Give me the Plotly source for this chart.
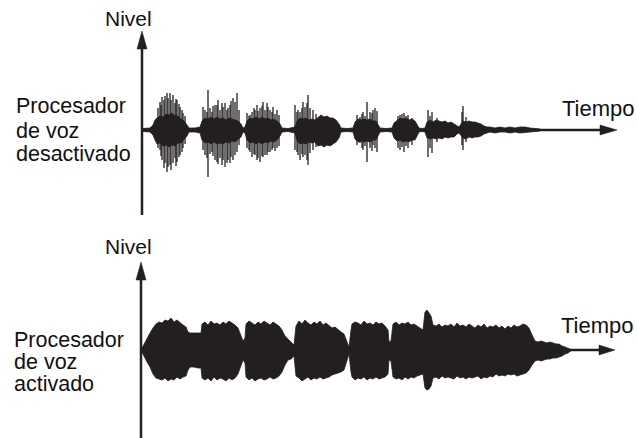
import plotly.graph_objects as go

# 波形数据（单位：像素级的时间 / 幅度，从参考图读取）
# 上图：处理器关闭 —— 主体包络
top_t = [143, 150, 153, 155, 157, 160, 163, 166, 169, 172, 175, 178, 181, 184, 187, 189,
         195, 200, 202, 205, 208, 211, 214, 217, 220, 223, 226, 229, 232, 235, 238, 241, 243,
         245, 247, 250, 253, 256, 259, 262, 265, 268, 271, 274, 277, 280, 282,
         288, 295, 297, 300, 303, 306, 309, 312, 315, 318, 321, 324, 327, 330, 333, 336, 339, 341,
         347, 353, 355, 358, 361, 364, 367, 370, 373, 376, 378, 380,
         386, 392, 394, 397, 400, 403, 406, 409, 412, 415, 417, 419,
         422, 425, 427, 430, 433, 436, 439, 442, 445, 448, 451, 454, 457, 459,
         461, 463, 466, 469, 472, 475, 478, 481, 484, 487, 490, 495, 500, 505, 510, 515, 520, 525, 530, 535, 540]
top_hi = [1.5, 2, 5, 10, 12, 14, 13, 16, 15, 17, 14, 14, 11, 9, 5, 2,
          2, 3, 9, 12, 11, 13, 11, 13, 11, 12, 10, 12, 11, 10, 9, 6, 2,
          3, 9, 12, 11, 13, 11, 13, 11, 12, 10, 11, 9, 6, 2,
          1.5, 3, 9, 12, 11, 12, 10, 11, 10, 13, 15, 13, 14, 12, 12, 10, 6, 2,
          1.5, 2, 8, 11, 10, 11, 10, 11, 9, 9, 5, 2,
          1.5, 2, 7, 10, 12, 11, 12, 10, 11, 9, 5, 2,
          1.5, 2, 8, 10, 8, 10, 9, 8, 9, 7, 8, 6, 4, 3,
          6, 9, 8, 9, 8, 8, 7, 6, 4, 3, 3, 2, 3, 2, 3, 2, 3, 3, 2, 1.5, 1]
top_lo = [-1.5, -2, -5, -10, -14, -13, -16, -15, -17, -15, -16, -13, -13, -10, -6, -2,
          -2, -3, -10, -13, -12, -14, -12, -14, -13, -14, -12, -13, -11, -12, -10, -7, -2,
          -3, -10, -13, -12, -14, -12, -14, -12, -13, -11, -12, -10, -6, -2,
          -1.5, -3, -11, -14, -13, -14, -12, -13, -12, -16, -15, -17, -15, -16, -14, -12, -8, -2,
          -1.5, -2, -9, -12, -11, -12, -11, -12, -10, -10, -6, -2,
          -1.5, -2, -8, -11, -10, -12, -11, -12, -10, -10, -6, -2,
          -1.5, -2, -8, -9, -8, -9, -8, -9, -7, -8, -7, -7, -4, -3,
          -6, -8, -9, -7, -8, -7, -7, -6, -4, -3, -2, -3, -2, -2, -3, -2, -3, -3, -2, -1.5, -1]

# 上图：尖峰
spk_t = [158, 160, 161, 162, 164, 165, 167, 168, 170, 171, 173, 175, 176, 177, 179, 180, 182, 183, 185,
         203, 205, 207, 208, 210, 212, 213, 215, 217, 218, 220, 222, 223, 225, 227, 228, 230, 231, 233, 235, 237, 239,
         247, 249, 250, 252, 254, 255, 257, 258, 260, 262, 263, 265, 267, 268, 270, 272, 273, 275, 277, 279,
         295, 297, 298, 300, 302, 303, 305, 307, 308, 310, 313, 316,
         357, 360, 362, 363, 365, 367, 370, 372, 373, 375, 377,
         398, 400, 402, 404, 406, 408, 412,
         428, 430, 432, 437,
         462, 463, 466]
spk_hi = [22, 28, 25, 33, 30, 34, 37, 32, 37, 30, 35, 27, 31, 30, 26, 23, 20, 17, 14,
          23, 20, 18, 40, 22, 18, 24, 25, 25, 30, 20, 27, 23, 27, 20, 22, 25, 29, 32, 28, 37, 20,
          17, 14, 15, 18, 22, 20, 25, 19, 22, 24, 28, 20, 27, 23, 20, 18, 23, 16, 20, 15,
          25, 18, 20, 18, 22, 28, 23, 27, 35, 22, 20, 16,
          15, 13, 16, 18, 14, 28, 18, 17, 20, 22, 19,
          14, 15, 16, 17, 14, 15, 12,
          20, 14, 18, 12,
          18, 24, 13]
spk_lo = [-18, -20, -26, -30, -38, -33, -42, -37, -35, -40, -33, -28, -36, -32, -27, -25, -22, -18, -14,
          -20, -25, -28, -47, -24, -22, -26, -30, -32, -34, -28, -35, -30, -37, -33, -30, -33, -27, -30, -25, -22, -15,
          -18, -20, -22, -27, -24, -25, -30, -28, -32, -26, -27, -25, -25, -22, -22, -20, -18, -21, -18, -16,
          -20, -22, -25, -30, -24, -27, -25, -30, -35, -23, -20, -17,
          -15, -13, -18, -20, -16, -32, -18, -21, -15, -18, -22,
          -18, -20, -17, -22, -16, -18, -15,
          -27, -18, -23, -12,
          -15, -20, -12]

# 下图：处理器开启 —— 包络
bot_t = [141, 144, 147, 150, 153, 156, 159, 162, 165, 168, 171, 174, 177, 180, 183, 186, 188,
         190, 194, 198, 201, 202, 205, 208, 211, 214, 217, 220, 223, 226, 229, 232, 235, 238, 241, 243, 245,
         246, 249, 252, 255, 258, 261, 264, 267, 270, 273, 276, 279, 282, 285, 288, 291, 294,
         296, 299, 302, 305, 308, 311, 314, 317, 320, 323, 326, 329, 332, 335, 338, 341, 344, 347, 349,
         351, 352, 355, 358, 361, 364, 367, 370, 373, 376, 379, 382, 385, 388, 389, 391,
         393, 396, 399, 402, 405, 408, 411, 414, 417, 420, 423, 425, 427, 429, 431,
         433, 436, 439, 442, 445, 448, 451, 454, 457, 460, 463, 466, 469, 472, 475, 478, 481, 484, 487, 490,
         493, 496, 499, 502, 505, 508, 511, 514, 517, 520, 523, 526, 529, 532, 535,
         538, 541, 544, 547, 550, 553, 556, 559, 562, 565, 568, 572]
bot_hi = [0, 6, 12, 17, 22, 26, 28, 27, 30, 29, 32, 28, 30, 27, 25, 23, 18,
          17, 17, 17, 17, 26, 28, 25, 29, 26, 27, 25, 28, 26, 29, 27, 25, 22, 14, 9, 12,
          26, 29, 27, 25, 28, 26, 29, 27, 25, 28, 26, 24, 20, 14, 11, 8, 5,
          24, 29, 26, 30, 27, 25, 28, 26, 29, 25, 27, 24, 22, 23, 20, 18, 16, 9, 3,
          20, 26, 28, 27, 25, 29, 26, 27, 25, 28, 26, 27, 24, 20, 8, 9,
          26, 28, 25, 27, 26, 28, 25, 26, 24, 22, 20, 38, 40, 37, 34,
          25, 24, 26, 23, 25, 24, 26, 23, 27, 24, 25, 23, 26, 24, 22, 25, 23, 26, 22, 24,
          23, 25, 22, 24, 21, 24, 22, 25, 23, 24, 26, 25, 22, 15, 9,
          8, 9, 8, 7, 8, 7, 6, 6, 4, 3, 2, 0]
bot_lo = [0, -6, -12, -17, -24, -28, -29, -30, -28, -31, -29, -30, -27, -29, -27, -26, -20,
          -17, -17, -18, -18, -28, -30, -28, -31, -27, -30, -28, -29, -31, -28, -30, -28, -24, -15, -10, -13,
          -27, -30, -28, -31, -29, -28, -30, -29, -27, -29, -28, -26, -22, -15, -10, -9, -6,
          -26, -28, -31, -29, -27, -30, -28, -29, -27, -29, -28, -27, -25, -24, -23, -22, -20, -10, -4,
          -22, -27, -30, -28, -29, -27, -30, -28, -29, -27, -29, -28, -27, -24, -10, -11,
          -27, -29, -28, -30, -27, -29, -27, -28, -26, -25, -24, -38, -40, -39, -36,
          -28, -27, -29, -26, -28, -27, -28, -29, -26, -28, -27, -29, -27, -28, -27, -26, -29, -27, -28, -26,
          -27, -24, -26, -25, -26, -24, -25, -24, -26, -25, -24, -23, -20, -15, -11,
          -10, -11, -10, -9, -9, -8, -8, -7, -6, -4, -3, 0]

W, H = 637, 438
INK = '#231f20'
FONT = 'Liberation Sans, Arial, sans-serif'


def px(x):  # 像素 -> paper 坐标
    return x / W


def py(y):
    return 1 - y / H


fig = go.Figure()

# 上图尖峰
sx, sy = [], []
for t, a, b in zip(spk_t, spk_hi, spk_lo):
    sx += [t, t, None]
    sy += [a, b, None]
fig.add_trace(go.Scatter(x=sx, y=sy, mode='lines', line=dict(color=INK, width=1.3),
                         yaxis='y', hoverinfo='skip'))
# 上图包络
fig.add_trace(go.Scatter(x=top_t + top_t[::-1], y=top_hi + top_lo[::-1],
                         fill='toself', fillcolor=INK, mode='lines',
                         line=dict(color=INK, width=0.8), yaxis='y', hoverinfo='skip'))
# 下图包络
fig.add_trace(go.Scatter(x=bot_t + bot_t[::-1], y=bot_hi + bot_lo[::-1],
                         fill='toself', fillcolor=INK, mode='lines',
                         line=dict(color=INK, width=0.8), yaxis='y2', hoverinfo='skip'))

shapes = []


def axis_line(x0, y0, x1, y1):
    shapes.append(dict(type='line', xref='paper', yref='paper',
                       x0=px(x0), y0=py(y0), x1=px(x1), y1=py(y1),
                       line=dict(color=INK, width=2.5)))


def tri(pts):
    path = 'M ' + ' L '.join(f'{px(a):.5f},{py(b):.5f}' for a, b in pts) + ' Z'
    shapes.append(dict(type='path', xref='paper', yref='paper', path=path,
                       fillcolor=INK, line=dict(color=INK, width=0.5)))


# 上图坐标轴
axis_line(142, 215, 142, 45)
tri([(142, 31), (137, 49), (147, 49)])
axis_line(142, 130, 603, 130)
tri([(617, 130), (600, 125), (600, 135)])
# 下图坐标轴
axis_line(141, 438, 141, 276)
tri([(141, 262), (136, 280), (146, 280)])
axis_line(141, 350, 602, 350)
tri([(615, 350), (599, 345), (599, 355)])

texts = [
    ('Nivel', 128.5, 18.5, 'center', 21),
    ('Tiempo', 560, 108.5, 'left', 22),
    ('Procesador', 14, 106.5, 'left', 21.5),
    ('de voz', 14, 130.5, 'left', 21.5),
    ('desactivado', 14, 153.5, 'left', 21.5),
    ('Nivel', 128.5, 246.5, 'center', 21),
    ('Tiempo', 559, 325, 'left', 22),
    ('Procesador', 12, 340, 'left', 21.5),
    ('de voz', 12, 361.5, 'left', 21.5),
    ('activado', 12, 383.5, 'left', 21.5),
]
annotations = [dict(text=s, x=px(x), y=py(y), xref='paper', yref='paper',
                    xanchor=a, yanchor='middle', showarrow=False,
                    font=dict(family=FONT, size=fs, color='#111111'))
               for s, x, y, a, fs in texts]

layout = go.Layout(width=W, height=H,
                   margin=dict(l=0, r=0, t=0, b=0),
                   paper_bgcolor='white', plot_bgcolor='white',
                   showlegend=False,
                   xaxis=dict(range=[0, W], visible=False, domain=[0, 1]),
                   yaxis=dict(range=[130 - 219, 130], domain=[0.5, 1], visible=False, anchor='x'),
                   yaxis2=dict(range=[350 - 438, 350 - 219], domain=[0, 0.5], visible=False, anchor='x'),
                   shapes=shapes, annotations=annotations)
fig.update_layout(layout)

fig.write_html('out.html', config={'displayModeBar': False},
               post_script="document.body.style.margin='0';")
